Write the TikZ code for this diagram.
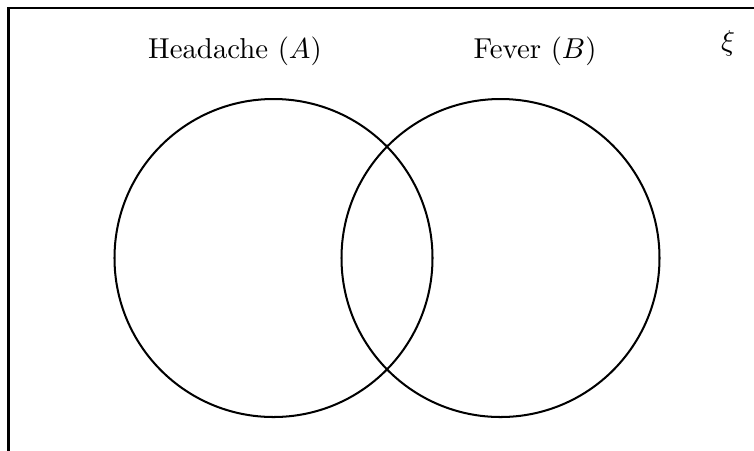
\documentclass[tikz,border=0pt]{standalone}
\usetikzlibrary{positioning}
\begin{document}
\begin{tikzpicture}[x=0.3472pt,y=-0.3472pt,
  setc/.style={draw,line width=0.7pt},
  lab/.style={font=\normalsize,inner sep=0pt}]
\clip (0,0) rectangle (754,450);
\useasboundingbox (0,0) rectangle (754,450);
\draw[line width=1pt] (8.5,8) rectangle (900,600);
\node[setc,circle,minimum size=318*0.3472pt,inner sep=0pt] (A) at (273.5,258) {};
\node[setc,circle,minimum size=318*0.3472pt,inner sep=0pt] (B) at (500.5,258) {};
\node[lab] (la) at (235,51) {Headache $(A)$};
\node[lab] (lb) at (535,51) {Fever $(B)$};
\node[lab] (xi) at (728,43) {$\xi$};
\end{tikzpicture}
\end{document}
